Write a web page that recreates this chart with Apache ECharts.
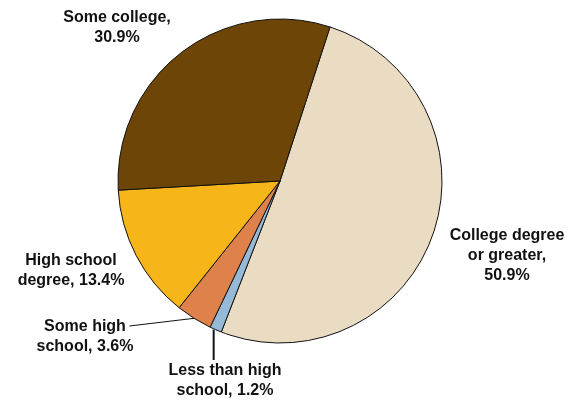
<!DOCTYPE html>
<html>
<head>
<meta charset="utf-8">
<script src="https://cdn.jsdelivr.net/npm/echarts@6/dist/echarts.min.js"></script>
<style>
html,body{margin:0;padding:0;background:#fff;}
#chart{width:575px;height:400px;}
</style>
</head>
<body>
<div id="chart"></div>
<script>
// Data
const categories = ['College degree or greater', 'Less than high school', 'Some high school', 'High school degree', 'Some college'];
const values = [50.9, 1.2, 3.6, 13.4, 30.9];
const labelTemplates = ['College degree\nor greater,\n{v}%', 'Less than high\nschool, {v}%', 'Some high\nschool, {v}%', 'High school\ndegree, {v}%', 'Some college,\n{v}%'];
const colors = ['#EADCC3', '#97B9D8', '#DF814A', '#F6B519', '#6D4506'];
const showLeader = [false, true, true, false, false];
const leaderWidths = [1, 2, 1, 1, 1];
// label anchor (center of text block) positions
const labelAnchors = [[507, 256], [225, 381], [85, 337], [71, 271], [117, 28]];

const chart = echarts.init(document.getElementById('chart'), null, {renderer: 'canvas'});
const data = categories.map((c, i) => ({
  name: c,
  value: values[i],
  itemStyle: {color: colors[i]},
  labelLine: {show: showLeader[i], lineStyle: {width: leaderWidths[i]}}
}));

chart.setOption({
  animation: false,
  series: [{
    type: 'pie',
    center: [280, 181],
    radius: 162,
    startAngle: 72,
    clockwise: true,
    avoidLabelOverlap: false,
    data: data,
    itemStyle: {borderColor: '#111', borderWidth: 1},
    emphasis: {disabled: true},
    label: {
      show: true,
      position: 'outside',
      formatter: p => labelTemplates[p.dataIndex].replace('{v}', values[p.dataIndex].toFixed(1)),
      fontFamily: 'Liberation Sans, Arial, sans-serif',
      fontWeight: 'bold',
      fontSize: 16,
      lineHeight: 20,
      color: '#111',
      align: 'center'
    },
    labelLine: {show: false, lineStyle: {color: '#111', width: 1}, length: 10, length2: 10},
    labelLayout: function (params) {
      const i = params.dataIndex;
      const a = labelAnchors[i];
      const w = params.labelRect.width, h = params.labelRect.height;
      const res = {x: a[0], y: a[1], align: 'center', verticalAlign: 'middle'};
      const pts = params.labelLinePoints;
      if (pts && showLeader[i]) {
        const p0 = pts[0];
        const top = a[1] - h / 2;
        if (i === 2) {
          res.labelLinePoints = [p0, [a[0] + w / 2 - 4, top + 9]];
        } else {
          res.labelLinePoints = [[p0[0] - 2, p0[1]], [p0[0] - 2, top - 1]];
        }
      }
      return res;
    }
  }]
});
</script>
</body>
</html>
